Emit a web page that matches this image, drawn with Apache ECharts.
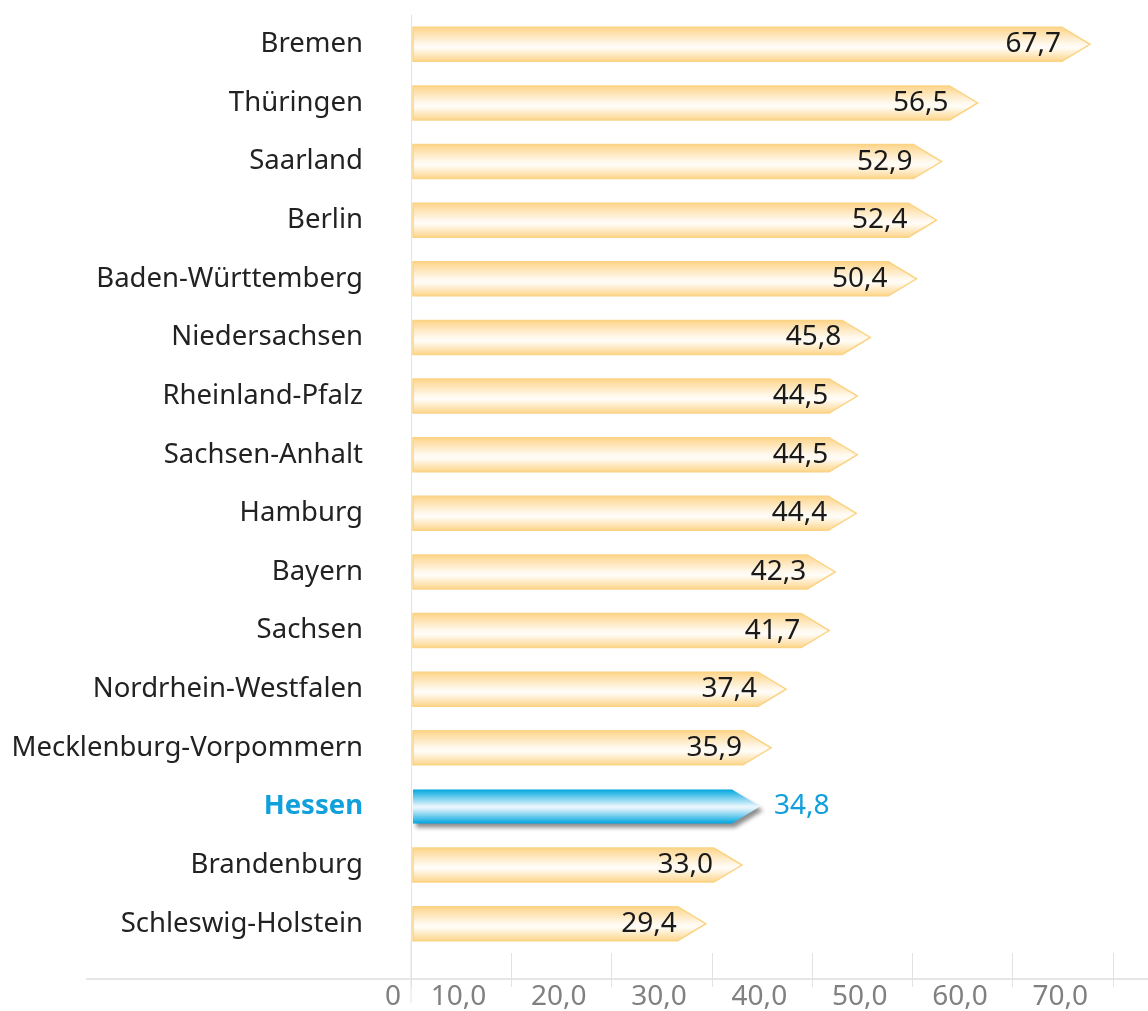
<!DOCTYPE html>
<html><head><meta charset="utf-8">
<script src="https://cdn.jsdelivr.net/npm/echarts@6/dist/echarts.min.js"></script>
<style>html,body{margin:0;padding:0;background:#fff}#c{width:1148px;height:1011px}</style>
</head><body><div id="c"></div>
<script>
const categories = ["Bremen","Thüringen","Saarland","Berlin","Baden-Württemberg","Niedersachsen","Rheinland-Pfalz","Sachsen-Anhalt","Hamburg","Bayern","Sachsen","Nordrhein-Westfalen","Mecklenburg-Vorpommern","Hessen","Brandenburg","Schleswig-Holstein"];
const values = [67.7,56.5,52.9,52.4,50.4,45.8,44.5,44.5,44.4,42.3,41.7,37.4,35.9,34.8,33.0,29.4];
const highlight = "Hessen";
const xTicks = [0,10,20,30,40,50,60,70];

const fmt = v => v === 0 ? '0' : v.toFixed(1).replace('.', ',');
const chart = echarts.init(document.getElementById('c'), null, {renderer:'canvas'});
const FONT = '"Noto Sans", Lato, sans-serif';

const orangeFill = new echarts.graphic.LinearGradient(0,0,0,1,[
  {offset:0,color:'#fdd386'},{offset:0.5,color:'#fff9ee'},{offset:0.6,color:'#fffdf8'},{offset:1,color:'#fdd386'}]);
const blueFill = new echarts.graphic.LinearGradient(0,0,0,1,[
  {offset:0,color:'#00a6e0'},{offset:0.5,color:'#eaf7fd'},{offset:0.58,color:'#d8f0fb'},{offset:1,color:'#00a6e0'}]);

chart.setOption({
  animation:false,
  grid:{left:411,right:35,top:15,bottom:54},
  xAxis:{type:'value',min:xTicks[0],max:xTicks[xTicks.length-1],interval:10,
    axisLine:{show:false},
    axisTick:{show:true,length:34,lineStyle:{color:'#e2e2e2',width:1}},
    splitLine:{show:false},
    offset:0,
    axisLabel:{margin:30,align:'right',color:'#808080',fontSize:28,fontFamily:FONT,
      formatter:v=> v===0 ? '{z|0}' : '{a|'+fmt(v)+'}',
      rich:{a:{padding:[0,25,0,0],fontSize:28,color:'#808080',fontFamily:FONT},
            z:{padding:[0,10,0,0],fontSize:28,color:'#808080',fontFamily:FONT}},
      showMinLabel:true,showMaxLabel:true}
  },
  yAxis:{type:'category',data:categories,inverse:true,
    axisLine:{show:true,lineStyle:{color:'#e2e2e2',width:1}},
    axisTick:{show:false},
    axisLabel:{margin:48,fontSize:27.5,color:'#222',fontFamily:FONT,
      formatter:v=> v===highlight?'{h|'+v+'}':v,
      rich:{h:{color:'#12a0dc',fontWeight:'bold',fontSize:27.5,fontFamily:FONT}}}
  },
  graphic:[
    {type:'line',shape:{x1:86,y1:979,x2:1148,y2:979},style:{stroke:'#e6e6e6',lineWidth:2},silent:true},
    {type:'line',shape:{x1:411,y1:940,x2:411,y2:1003},style:{stroke:'#e2e2e2',lineWidth:1},silent:true}
  ],
  series:[{
    type:'custom',
    data:values.map((v,i)=>[v,i]),
    encode:{x:0,y:1},
    renderItem:function(params,api){
      const v=api.value(0), idx=api.value(1);
      const p0=api.coord([0,idx]), p1=api.coord([v,idx]);
      const h=34, head=28;
      const x0=p0[0]+2, x1=p1[0], y=p0[1];
      const hi = categories[idx]===highlight;
      const pts=[[x0,y-h/2],[x1-head,y-h/2],[x1,y],[x1-head,y+h/2],[x0,y+h/2]];
      const children=[{
        type:'polygon',shape:{points:pts},
        style: hi ? {fill:blueFill,shadowColor:'rgba(0,0,0,0.45)',shadowBlur:4,shadowOffsetX:3,shadowOffsetY:4}
                  : {fill:orangeFill,stroke:'#fbd384',lineWidth:1.5}
      }];
      children.push({
        type:'text',
        style: hi ? {text:fmt(v),x:x1+14,y:y,align:'left',verticalAlign:'middle',fill:'#12a0dc',font:'28px '+FONT}
                  : {text:fmt(v),x:x1-29,y:y,align:'right',verticalAlign:'middle',fill:'#1a1a1a',font:'28px '+FONT}
      });
      return {type:'group',children:children};
    }
  }]
});
</script></body></html>
